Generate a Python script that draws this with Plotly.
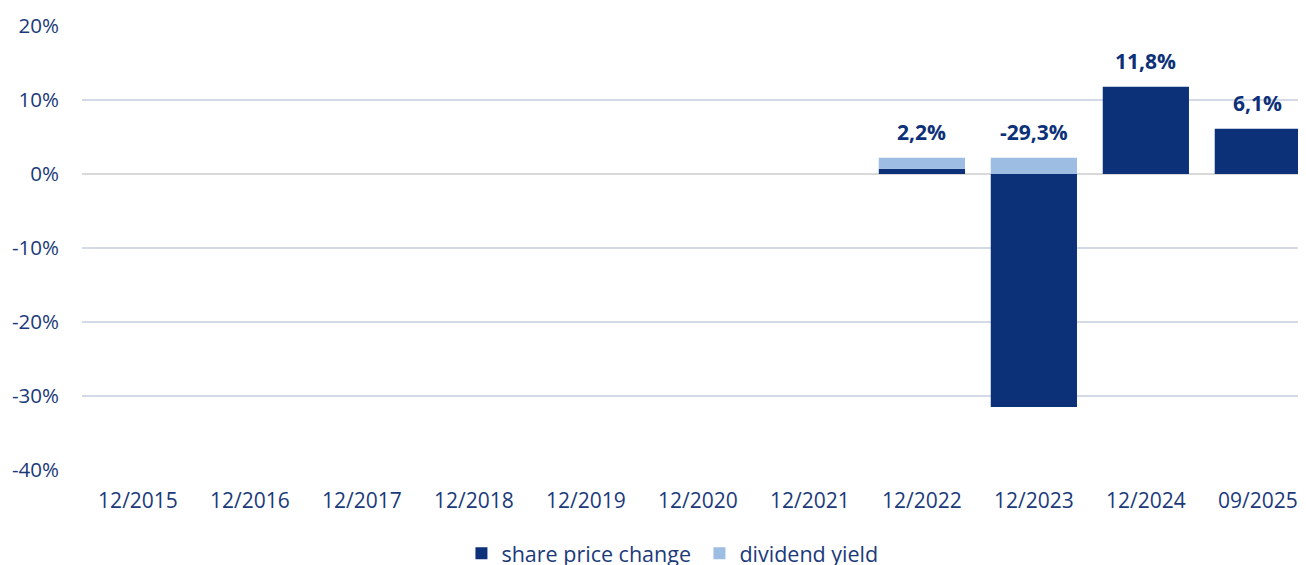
import plotly.graph_objects as go

categories = ["12/2015", "12/2016", "12/2017", "12/2018", "12/2019", "12/2020",
              "12/2021", "12/2022", "12/2023", "12/2024", "09/2025"]
share_price_change = [None, None, None, None, None, None, None, 0.7, -31.5, 11.8, 6.1]
dividend_yield = [None, None, None, None, None, None, None, 1.5, 2.2, None, None]
total_labels = [None, None, None, None, None, None, None, "2,2%", "-29,3%", "11,8%", "6,1%"]
y_tick_values = [-40, -30, -20, -10, 0, 10, 20]
y_tick_labels = ["-40%", "-30%", "-20%", "-10%", "0%", "10%", "20%"]

DARK = "#0d3178"
LIGHT = "#9dbde3"
TEXT = "#1b3a7a"
FONT = "Open Sans"

fig = go.Figure()
fig.add_trace(go.Bar(x=categories, y=share_price_change, name="share price change",
                     marker=dict(color=DARK, line=dict(width=0)), width=0.77))
fig.add_trace(go.Bar(x=categories, y=dividend_yield, name="dividend yield",
                     marker=dict(color=LIGHT, line=dict(width=0)), width=0.77))

for i, lab in enumerate(total_labels):
    if lab is None:
        continue
    top = max(share_price_change[i] or 0, 0) + max(dividend_yield[i] or 0, 0)
    fig.add_annotation(x=categories[i], y=top, text=f"<b>{lab}</b>", showarrow=False,
                       yanchor="bottom", yshift=10,
                       font=dict(family=FONT, size=21, color=DARK))

# page body adds an 8px offset; margins compensate
fig.update_layout(
    barmode="relative",
    width=1306, height=565,
    margin=dict(l=74, r=8, t=18, b=103),
    paper_bgcolor="white", plot_bgcolor="white",
    font=dict(family=FONT, color=TEXT, size=20),
    showlegend=True,
    legend=dict(orientation="h", x=0.31, xanchor="left",
                yref="container", y=0.035, yanchor="middle",
                font=dict(family=FONT, size=21.5, color=TEXT), itemwidth=30,
                entrywidth=193, entrywidthmode="pixels",
                traceorder="normal"),
)
fig.update_xaxes(type="category", range=[-0.5, 10.43], showgrid=False, showline=False,
                 ticks="", tickfont=dict(family=FONT, size=21, color=TEXT),
                 ticklabelstandoff=16, automargin=False)
fig.update_yaxes(range=[-40, 20], tickvals=y_tick_values, ticktext=y_tick_labels,
                 showgrid=True, gridcolor="#d3dae6", gridwidth=1.5,
                 zeroline=True, zerolinecolor="#d9d9d9", zerolinewidth=2, showline=False,
                 tickfont=dict(family=FONT, size=20.5, color=TEXT), ticklabelstandoff=22,
                 automargin=False)

fig.write_html("out.html")
